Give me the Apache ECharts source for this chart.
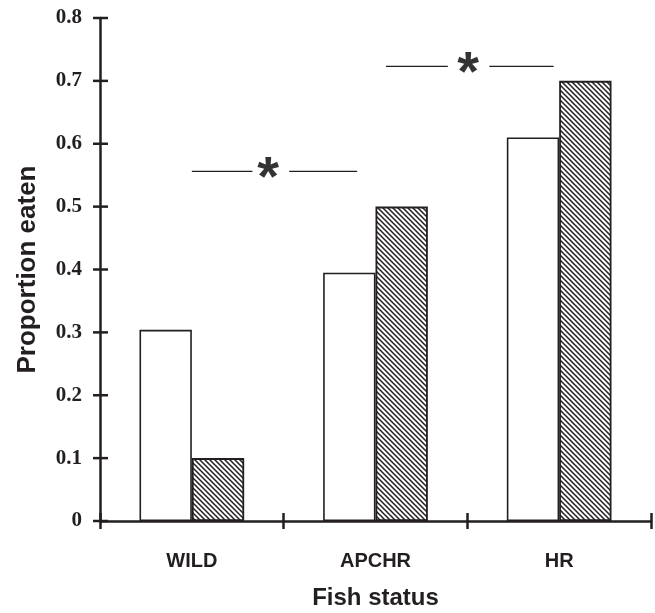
<!DOCTYPE html>
<html><head><meta charset="utf-8">
<script src="https://cdn.jsdelivr.net/npm/echarts@6/dist/echarts.min.js"></script>
<style>html,body{margin:0;padding:0;background:#fff}#c{width:655px;height:613px}</style>
</head><body><div id="c"></div>
<script>
const categories = ['WILD', 'APCHR', 'HR'];
const openValues = [0.304, 0.395, 0.61];
const hatchedValues = [0.10, 0.50, 0.70];
const yTicks = [0, 0.1, 0.2, 0.3, 0.4, 0.5, 0.6, 0.7, 0.8];
// significance brackets in category units (0..3) and y value
const sigLines = [
  {left: [0.50, 0.83], right: [1.03, 1.40], star: 0.915, y: 0.556},
  {left: [1.557, 1.894], right: [2.12, 2.47], star: 2.005, y: 0.723}
];

const ink = '#231f20';
function hatch() {
  const s = 5, c = document.createElement('canvas');
  c.width = s; c.height = s;
  const g = c.getContext('2d');
  g.fillStyle = '#fff'; g.fillRect(0, 0, s, s);
  g.strokeStyle = ink; g.lineWidth = 1.5;
  g.beginPath();
  g.moveTo(-1, -1); g.lineTo(s + 1, s + 1);
  g.moveTo(-1, s - 1); g.lineTo(1, s + 1);
  g.moveTo(s - 1, -1); g.lineTo(s + 1, 1);
  g.stroke();
  return c;
}

const lineSeries = [];
sigLines.forEach(s => {
  [s.left, s.right].forEach(seg => {
    lineSeries.push({
      type: 'line', xAxisIndex: 1, yAxisIndex: 0, symbol: 'none', silent: true,
      lineStyle: {color: ink, width: 1.2},
      data: [[seg[0], s.y], [seg[1], s.y]]
    });
  });
  lineSeries.push({
    type: 'scatter', xAxisIndex: 1, yAxisIndex: 0, symbolSize: 0, silent: true,
    data: [[s.star, s.y]],
    label: {show: true, formatter: '*', position: 'inside', color: '#000',
      fontFamily: 'Liberation Sans', fontWeight: 'bold', fontSize: 56, offset: [0, 8]}
  });
});
// cross ticks on the y axis, placed through the axis scale
lineSeries.push({
  type: 'custom', xAxisIndex: 1, yAxisIndex: 0, silent: true, clip: false,
  data: yTicks.map(v => [0, v]),
  renderItem: (params, api) => {
    const p = api.coord([api.value(0), api.value(1)]);
    return {type: 'line', shape: {x1: p[0] - 7, y1: p[1], x2: p[0] + 8, y2: p[1]},
      style: {stroke: ink, lineWidth: 2.5}};
  }
});

const chart = echarts.init(document.getElementById('c'));
chart.setOption({
  animation: false,
  grid: {left: 100, right: 4, top: 18, bottom: 92, containLabel: false, outerBoundsMode: 'none'},
  xAxis: [
    {type: 'category', data: categories,
     axisLine: {lineStyle: {color: ink, width: 2.5}},
     axisTick: {show: true, length: 8, lineStyle: {color: ink, width: 2.5}},
     axisLabel: {color: ink, fontFamily: 'Liberation Sans', fontWeight: 'bold', fontSize: 20, margin: 30},
     name: 'Fish status', nameLocation: 'middle', nameGap: 65,
     nameTextStyle: {color: ink, fontFamily: 'Liberation Sans', fontWeight: 'bold', fontSize: 24}},
    {type: 'value', min: 0, max: 3, show: false},
    {type: 'category', data: categories, position: 'bottom',
     axisLine: {show: false}, axisLabel: {show: false},
     axisTick: {show: true, inside: true, length: 8, lineStyle: {color: ink, width: 2.5}}}
  ],
  yAxis: [
    {type: 'value', min: 0, max: 0.8, interval: 0.1, splitLine: {show: false},
     axisLine: {show: true, lineStyle: {color: ink, width: 2.5}},
     axisTick: {show: false},
     axisLabel: {color: ink, fontFamily: 'Liberation Serif', fontWeight: 'bold', fontSize: 21, margin: 18,
       formatter: v => (Math.round(v * 10) / 10).toString()},
     name: 'Proportion eaten', nameLocation: 'middle', nameGap: 59,
     nameTextStyle: {color: ink, fontFamily: 'Liberation Sans', fontWeight: 'bold', fontSize: 26}}
  ],
  series: [
    {type: 'bar', data: openValues, barGap: '0%', barCategoryGap: '43%',
     itemStyle: {color: '#fff', borderColor: ink, borderWidth: 1.6}},
    {type: 'bar', data: hatchedValues,
     itemStyle: {color: {image: hatch(), repeat: 'repeat'}, borderColor: ink, borderWidth: 1.8}}
  ].concat(lineSeries)
});
</script></body></html>
